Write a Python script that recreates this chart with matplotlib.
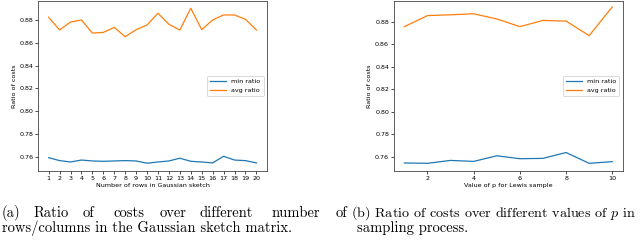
import matplotlib
matplotlib.use('Agg')
import matplotlib.pyplot as plt

# (a) number of rows in the Gaussian sketch
rows = list(range(1, 21))
rows_min = [0.7591, 0.7565, 0.7553, 0.7570, 0.7562, 0.7559, 0.7562, 0.7565, 0.7562, 0.7542,
            0.7553, 0.7562, 0.7586, 0.7559, 0.7553, 0.7545, 0.7603, 0.7570, 0.7565, 0.7545]
rows_avg = [0.8824, 0.8712, 0.8782, 0.8800, 0.8685, 0.8691, 0.8735, 0.8653, 0.8715, 0.8756,
            0.8859, 0.8762, 0.8712, 0.8903, 0.8715, 0.8800, 0.8844, 0.8844, 0.8806, 0.8712]

# (b) value of p for Lewis sample
pvals = list(range(1, 11))
p_min = [0.7545, 0.7542, 0.7568, 0.7559, 0.7609, 0.7583, 0.7586, 0.7638, 0.7542, 0.7557]
p_avg = [0.8757, 0.8855, 0.8862, 0.8871, 0.8825, 0.8757, 0.8812, 0.8806, 0.8677, 0.8932]

fig = plt.figure(figsize=(6.4, 2.4), dpi=100)
ax1 = fig.add_axes([0.0598, 0.289, 0.357, 0.707])
ax2 = fig.add_axes([0.6156, 0.289, 0.3573, 0.707])

fs = 4.6
for ax, x, mn, av, xlab in [(ax1, rows, rows_min, rows_avg, "Number of rows in Gaussian sketch"),
                            (ax2, pvals, p_min, p_avg, "Value of p for Lewis sample")]:
    ax.plot(x, mn, color='#1f77b4', lw=0.9, label='min ratio')
    ax.plot(x, av, color='#ff7f0e', lw=0.9, label='avg ratio')
    ax.set_xlabel(xlab, fontsize=fs, labelpad=1.5)
    ax.set_ylabel("Ratio of costs", fontsize=fs, labelpad=2)
    ax.tick_params(labelsize=fs, length=2, width=0.5, pad=1.5)
    for s in ax.spines.values():
        s.set_linewidth(0.6)
        s.set_color('#444444')
    leg = ax.legend(loc='center right', fontsize=fs, handlelength=2.5, borderpad=0.5,
                    labelspacing=0.5, framealpha=1)
    leg.get_frame().set_linewidth(0.5)

ax1.set_xticks(rows)
ax1.set_ylim(0.7477, 0.8967)
ax2.set_ylim(0.7477, 0.8985)

cap = dict(family='cmr10', fontsize=10.5, va='baseline')
y1 = 1 - 217 / 240
y2 = 1 - 232 / 240
words = [("(a)", 2), ("Ratio", 33), ("of", 83), ("costs", 113), ("over", 160),
         ("different", 200), ("number", 272), ("of", 336)]
for w, px in words:
    fig.text(px / 640, y1, w, **cap)
fig.text(2 / 640, y2, "rows/columns in the Gaussian sketch matrix.", **cap)
fig.text(351 / 640, y1, "(b) Ratio of costs over different values of $p$ in",
         math_fontfamily='cm', **{**cap, 'fontsize': 10.2})
fig.text(357 / 640, y2, "sampling process.", **cap)

fig.savefig("out.png", dpi=100)
